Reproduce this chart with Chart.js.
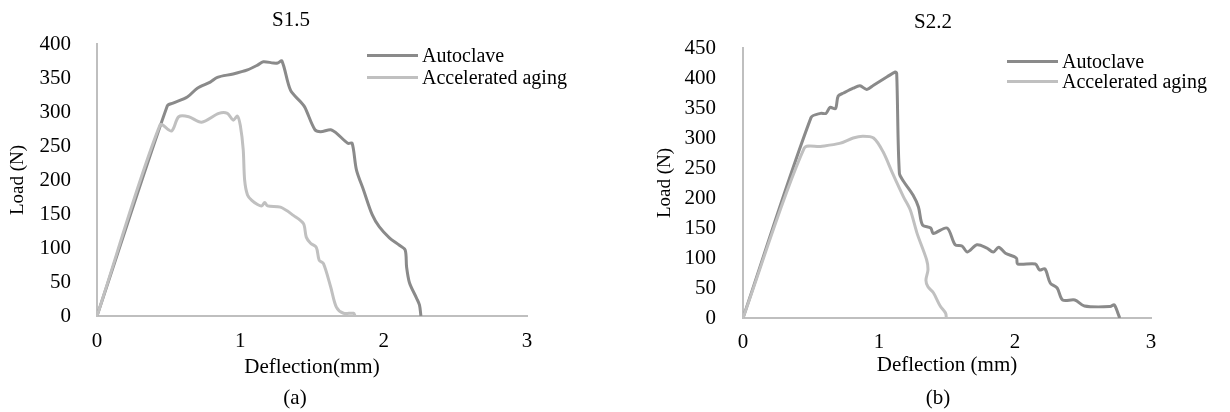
<!DOCTYPE html>
<html>
<head>
<meta charset="utf-8">
<script src="https://cdn.jsdelivr.net/npm/chart.js@4.4.1/dist/chart.umd.min.js"></script>
<style>
html,body{margin:0;padding:0;background:#fff;}
body{width:1230px;height:412px;position:relative;overflow:hidden;font-family:'Liberation Serif','Times New Roman',serif;color:#000;}
.box{position:absolute;top:0;width:615px;height:412px;}
.box canvas{position:absolute;left:0;top:0;}
.ttl,.cap{position:absolute;font-size:21px;line-height:22px;transform:translateX(-50%);white-space:nowrap;}
.leg{position:absolute;font-size:20px;}
.leg div{display:flex;align-items:center;white-space:nowrap;}
.leg i{display:inline-block;width:51px;height:3px;margin-right:4px;}
</style>
</head>
<body>
<div class="box" style="left:0"><canvas id="chartS15" width="615" height="412"></canvas></div>
<div class="box" style="left:615px"><canvas id="chartS22" width="615" height="412"></canvas></div>
<div class="ttl" style="left:291px;top:8px">S1.5</div>
<div class="ttl" style="left:933px;top:10px">S2.2</div>
<div class="cap" style="left:295px;top:386px">(a)</div>
<div class="cap" style="left:938px;top:386px">(b)</div>
<div class="leg" id="legS15" style="left:367px;top:44px;line-height:22px"></div>
<div class="leg" id="legS22" style="left:1007px;top:51px;line-height:20px"></div>
<script>
// series names + colours
const seriesNames=['Autoclave','Accelerated aging'];
const seriesColors=['#8a8a8a','#c0c0c0'];

// S1.5 - deflection (mm) / load (N)
const s15AutoX=[0,0.49,0.53,0.63,0.70,0.79,0.84,0.95,1.05,1.12,1.16,1.23,1.26,1.29,1.35,1.42,1.45,1.52,1.56,1.63,1.67,1.75,1.78,1.81,1.86,1.92,1.97,2.04,2.11,2.15,2.16,2.18,2.23,2.25,2.26];
const s15AutoY=[0,309,313,322,335,344,351,356,362,369,374,372,372,375,332,315,307,274,271,274,269,254,254,215,185,149,131,115,104,97,72,49,26,16,0];
const s15AgedX=[0,0.44,0.52,0.57,0.64,0.73,0.85,0.91,0.95,0.98,1.00,1.02,1.03,1.05,1.08,1.12,1.15,1.17,1.19,1.28,1.37,1.44,1.46,1.49,1.53,1.55,1.58,1.63,1.67,1.72,1.79,1.80];
const s15AgedY=[0,281,272,293,293,285,298,298,288,294,280,245,200,178,170,164,162,167,162,160,148,136,116,107,101,82,77,43,13,4,4,0];

// S2.2
const s22AutoX=[0,0.50,0.57,0.61,0.64,0.68,0.70,0.74,0.81,0.86,0.91,0.96,1.06,1.12,1.13,1.15,1.18,1.25,1.29,1.32,1.38,1.40,1.50,1.56,1.61,1.65,1.72,1.79,1.84,1.88,1.93,2.01,2.02,2.15,2.18,2.22,2.26,2.31,2.35,2.44,2.51,2.70,2.73,2.76,2.77];
const s22AutoY=[0,334,341,341,351,349,370,375,383,387,381,388,402,410,408,241,228,205,185,155,150,141,150,122,120,110,122,117,110,118,108,100,90,90,80,82,58,50,30,30,20,19,22,6,0];
const s22AgedX=[0,0.45,0.57,0.71,0.81,0.88,0.96,1.03,1.10,1.18,1.23,1.28,1.35,1.36,1.345,1.36,1.40,1.45,1.49,1.495];
const s22AgedY=[0,283,286,291,300,303,300,277,241,202,180,141,97,80,63,52,42,20,8,0];

const xMax=3, xStep=1;
const yMaxS15=400, yMaxS22=450, yStep=50;

const FONT="'Liberation Serif','Times New Roman',serif";
const pts=(xs,ys)=>xs.map((x,i)=>({x,y:ys[i]}));

function makeChart(id,sets,opt){
  const ctx=document.getElementById(id).getContext('2d');
  return new Chart(ctx,{
    type:'scatter',
    data:{datasets:sets.map((s,i)=>({
      label:seriesNames[i],
      data:pts(s[0],s[1]),
      showLine:true,
      borderColor:seriesColors[i],
      backgroundColor:seriesColors[i],
      borderWidth:3,
      pointRadius:0,
      tension:0.3,
      order:i===0?1:0
    }))},
    options:{
      responsive:false,
      animation:false,
      layout:{padding:{top:opt.top,right:opt.right,left:0,bottom:0}},
      plugins:{legend:{display:false},tooltip:{enabled:false}},
      scales:{
        x:{type:'linear',min:0,max:xMax,
          ticks:{stepSize:xStep,color:'#000',padding:opt.xPad,font:{family:FONT,size:21}},
          grid:{display:false},
          border:{color:'#bfbfbf',width:2},
          title:{display:true,text:opt.xTitle,color:'#000',font:{family:FONT,size:21},padding:{top:0,bottom:opt.xTitleBottom}},
          afterFit:s=>{s.height=opt.xH;}
        },
        y:{min:0,max:opt.yMax,
          ticks:{stepSize:yStep,color:'#000',padding:opt.yPad,font:{family:FONT,size:21}},
          grid:{display:false},
          border:{color:'#bfbfbf',width:2},
          title:{display:true,text:'Load (N)',color:'#000',font:{family:FONT,size:19},padding:{top:opt.yTitleTop,bottom:0}},
          afterFit:s=>{s.width=opt.yW;}
        }
      }
    }
  });
}

function legend(id){
  document.getElementById(id).innerHTML=seriesNames.map((n,i)=>`<div><i style="background:${seriesColors[i]}"></i>${n}</div>`).join('');
}

makeChart('chartS15',[[s15AutoX,s15AutoY],[s15AgedX,s15AgedY]],
  {top:44,right:88,yW:97,xH:96,yMax:yMaxS15,xTitle:'Deflection(mm)',xPad:5,yPad:18,xTitleBottom:32,yTitleTop:7});
makeChart('chartS22',[[s22AutoX,s22AutoY],[s22AgedX,s22AgedY]],
  {top:48,right:79,yW:128,xH:94,yMax:yMaxS22,xTitle:'Deflection (mm)',xPad:4,yPad:19,xTitleBottom:34,yTitleTop:39});
legend('legS15');
legend('legS22');
</script>
</body>
</html>
